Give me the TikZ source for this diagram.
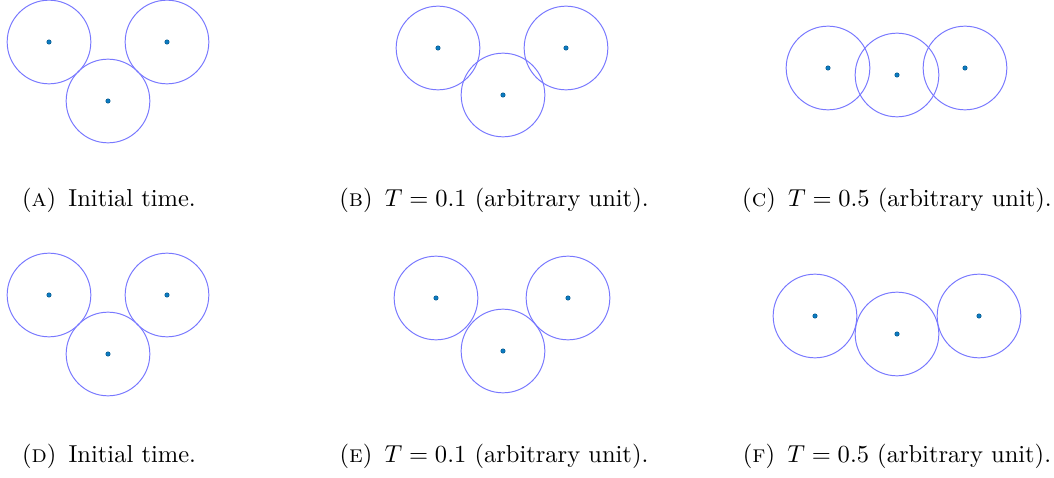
\documentclass[tikz,border=0pt]{standalone}
\usetikzlibrary{positioning}
\definecolor{cring}{RGB}{120,120,255}
\definecolor{cdot}{HTML}{0A7BC2}
\tikzset{
  ring/.style={draw=cring, line width=0.4pt},
  centre/.style={fill=cdot, draw=cdot!70!black, line width=0.2pt},
  caption/.style={anchor=base, font=\normalsize},
}
% one particle: ring and its centre
\newcommand{\particle}[2]{%
  \draw[ring] (#1,#2) circle[radius=0.6cm];
  \filldraw[centre] (#1,#2) circle[radius=0.032cm];
}

\begin{document}
\begin{tikzpicture}[x=0.01434cm, y=-0.01434cm]
  \useasboundingbox (0,0) rectangle (1054,478);
  % top row
  \particle{49}{42} \particle{167}{42} \particle{108}{101}
  \particle{438}{48} \particle{566}{48} \particle{503}{95}
  \particle{828}{68} \particle{897}{75} \particle{965}{68}
  \node[caption] (capA) at (109,207) {(\textsc{a})\enskip Initial time.};
  \node[caption] (capB) at (494,207) {(\textsc{b})\enskip $T=0.1$ (arbitrary unit).};
  \node[caption] (capC) at (897,207) {(\textsc{c})\enskip $T=0.5$ (arbitrary unit).};
  % bottom row
  \particle{49}{295} \particle{167}{295} \particle{108}{354}
  \particle{436}{298} \particle{568}{298} \particle{503}{351}
  \particle{815}{316} \particle{897}{334} \particle{979}{316}
  \node[caption] (capD) at (109,462) {(\textsc{d})\enskip Initial time.};
  \node[caption] (capE) at (494,462) {(\textsc{e})\enskip $T=0.1$ (arbitrary unit).};
  \node[caption] (capF) at (897,462) {(\textsc{f})\enskip $T=0.5$ (arbitrary unit).};
\end{tikzpicture}
\end{document}
